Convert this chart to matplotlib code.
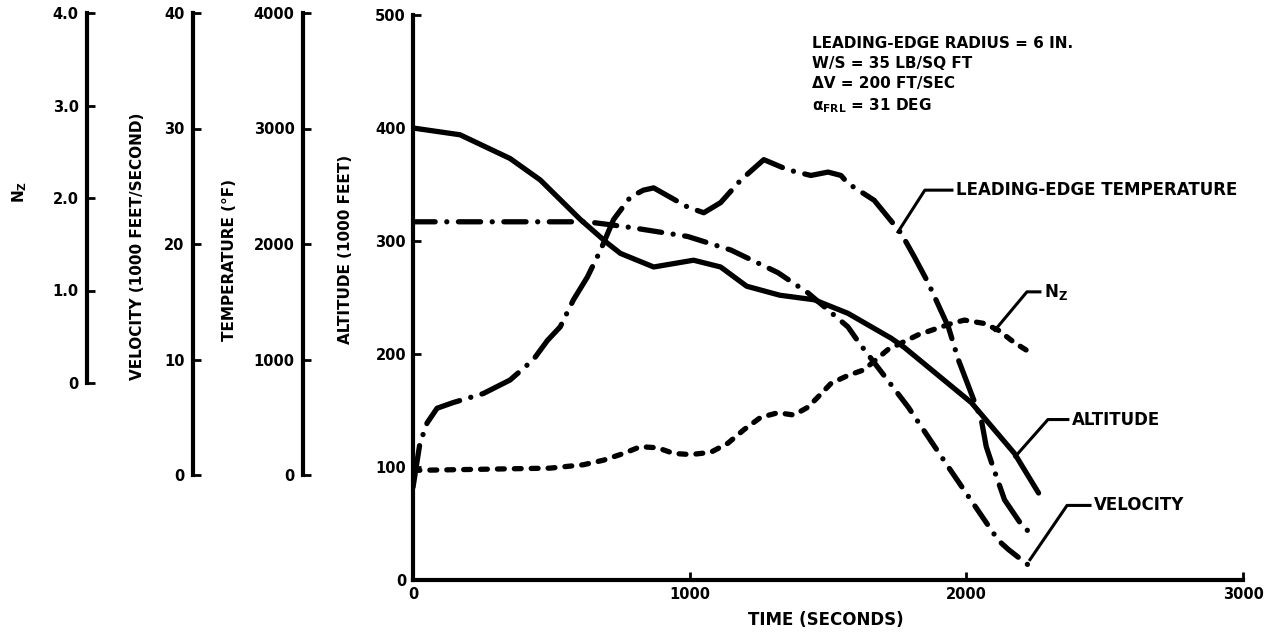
import matplotlib
matplotlib.use("Agg")
import matplotlib.pyplot as plt

plt.rcParams["font.family"] = ["DejaVu Sans"]
plt.rcParams["font.weight"] = "bold"

W, H = 1288, 636

# all curves read on the 0-500 grid of the main (altitude) scale
alt_t = [0, 170, 351, 460, 605, 703, 750, 870, 1014, 1112, 1206, 1326, 1450,
         1572, 1728, 1775, 2018, 2174, 2261]
alt_v = [400, 394, 373, 354, 319, 298, 289, 277, 283, 277, 260, 252, 248,
         236, 214, 206, 157, 112, 77]

vel_t = [0, 300, 630, 725, 786, 993, 1149, 1319, 1428, 1572, 1612, 1790,
         1935, 2116, 2152, 2225]
vel_v = [317, 317, 317, 314, 312, 304, 292, 272, 254, 224, 210, 153,
         100, 35, 27, 13]

temp_t = [0, 25, 51, 87, 145, 254, 351, 435, 486, 532, 580, 630, 678, 725,
          786, 833, 870, 993, 1051, 1112, 1185, 1268, 1355, 1438, 1500, 1547,
          1572, 1667, 1764, 1812, 1862, 1935, 1971, 2054, 2072, 2091, 2138,
          2199, 2246]
temp_v = [82, 121, 139, 152, 157, 165, 177, 195, 212, 224, 248, 268, 292, 319,
          339, 345, 347, 330, 325, 334, 354, 372, 363, 358, 361, 358,
          351, 336, 307, 286, 263, 224, 195, 142, 118, 104, 71,
          49, 38]

nz_t = [0, 250, 496, 616, 688, 761, 822, 884, 942, 1004, 1076, 1138, 1196,
        1257, 1319, 1377, 1428, 1464, 1511, 1572, 1630, 1717, 1826, 1946,
        1993, 2065, 2116, 2174, 2246]
nz_v = [97, 98, 99, 102, 106, 112, 118, 117, 112, 111, 113, 121, 133,
        144, 148, 146, 153, 162, 174, 181, 186, 204, 217, 227,
        230, 227, 221, 210, 199]

time_ticks = [0, 1000, 2000, 3000]
alt_ticks = [0, 100, 200, 300, 400, 500]
nz_ticks = [0, 1, 2, 3, 4]
nz_labels = ["0", "1.0", "2.0", "3.0", "4.0"]
vel_ticks = [0, 10, 20, 30, 40]
temp_ticks = [0, 1000, 2000, 3000, 4000]

notes = ["LEADING-EDGE RADIUS = 6 IN.",
         "W/S = 35 LB/SQ FT",
         "\u0394V = 200 FT/SEC",
         r"$\mathbf{\alpha_{FRL}}$ = 31 DEG"]

LW_AX = 3.0
LW = 3.8


def fx(px):
    return px / W


def fy(py):
    return 1 - py / H


fig = plt.figure(figsize=(W / 100, H / 100), dpi=100)

ax = fig.add_axes([fx(413), fy(580), (1243 - 413) / W, (580 - 15) / H])
ax.set_xlim(0, 3000)
ax.set_ylim(0, 500)
ax.set_xticks(time_ticks)
ax.set_yticks(alt_ticks)
for s in ["top", "right"]:
    ax.spines[s].set_visible(False)
for s in ["left", "bottom"]:
    ax.spines[s].set_linewidth(LW_AX)
ax.tick_params(direction="in", length=6, width=2, labelsize=10.5, pad=5)

ax.plot(alt_t, alt_v, color="black", lw=LW, solid_capstyle="round")
ax.plot(vel_t, vel_v, color="black", lw=LW, dash_capstyle="round",
        linestyle=(0, (4.2, 2.2, 0.01, 2.2)))
ax.plot(temp_t, temp_v, color="black", lw=LW, dash_capstyle="round",
        linestyle=(0, (8.0, 2.2, 0.01, 2.2)))
ax.plot(nz_t, nz_v, color="black", lw=LW, dash_capstyle="round",
        linestyle=(0, (1.3, 1.9)))

# leader lines with curve names
leaders = [
    ("LEADING-EDGE TEMPERATURE", [1753, 1850, 1948], [308, 345, 345]),
    (r"$\mathbf{N_Z}$", [2103, 2219, 2266], [221, 255, 255]),
    ("ALTITUDE", [2176, 2295, 2367], [109, 142, 142]),
    ("VELOCITY", [2230, 2364, 2447], [18, 66, 66]),
]
for name, lx, ly in leaders:
    ax.plot(lx, ly, color="black", lw=2.2)
    ax.text(lx[-1] + 15, ly[-1], name, fontsize=12, va="center", ha="left",
            clip_on=False)

ax.text(1442, 481, "\n".join(notes), fontsize=11, va="top", ha="left",
        linespacing=1.4)

# extra vertical scales on the left
sides = [
    (87, 13, 383, nz_ticks, nz_labels),
    (193, 13, 475, vel_ticks, [str(v) for v in vel_ticks]),
    (303, 13, 475, temp_ticks, [str(v) for v in temp_ticks]),
]
for x, top, bot, ticks, labels in sides:
    a = fig.add_axes([fx(x), fy(bot), 0.0005, (bot - top) / H])
    a.set_ylim(ticks[0], ticks[-1])
    a.set_yticks(ticks, labels)
    a.set_xticks([])
    for s in ["top", "right", "bottom"]:
        a.spines[s].set_visible(False)
    a.spines["left"].set_linewidth(LW_AX)
    a.tick_params(axis="y", direction="in", length=6, width=2,
                  labelsize=10.5, pad=6)
    a.patch.set_visible(False)

fig.text(fx(20), fy(192), r"$\mathbf{N_Z}$", rotation=90, fontsize=11,
         ha="center", va="center")
fig.text(fx(137), fy(246), "VELOCITY (1000 FEET/SECOND)", rotation=90,
         fontsize=11, ha="center", va="center")
fig.text(fx(230), fy(260), "TEMPERATURE (\u00b0F)", rotation=90,
         fontsize=11, ha="center", va="center")
fig.text(fx(345), fy(249), "ALTITUDE (1000 FEET)", rotation=90,
         fontsize=11, ha="center", va="center")
fig.text(fx(826), fy(620), "TIME (SECONDS)", fontsize=12,
         ha="center", va="center")

fig.savefig("out.png", dpi=100)
